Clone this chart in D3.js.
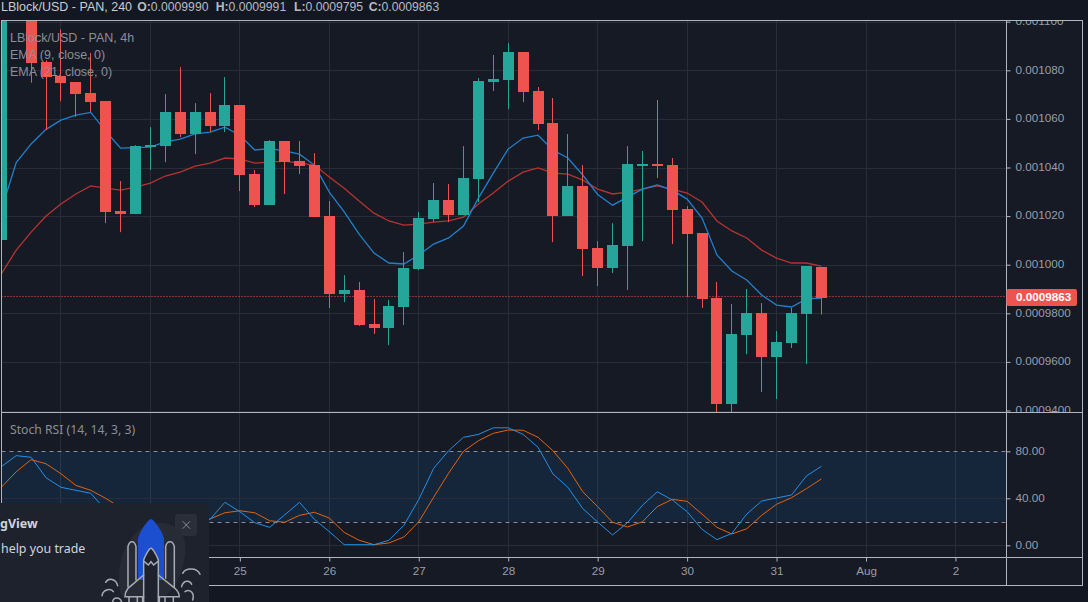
<!DOCTYPE html>
<html>
<head>
<meta charset="utf-8">
<script src="https://cdn.jsdelivr.net/npm/d3@7"></script>
<style>
  html, body { margin: 0; padding: 0; background: #131722; overflow: hidden; }
  svg { display: block; }
  text { font-family: "Liberation Sans", Arial, sans-serif; }
  .ui { font-family: "Noto Sans", sans-serif; }
</style>
</head>
<body>
<div id="chart"></div>
<script>
// prices are in units of 1e-7 (9863 = 0.0009863)
const opens = [10101,11600,11150,10834,10776,10752,10706,10673,10221,10208,10484,10488,10628,10538,10628,10570,10657,10373,10245,10509,10426,10410,10200,9879,9896,9756,9739,9826,9982,10188,10266,10204,10352,10752,10760,10875,10715,10583,10200,10324,10068,9986,10077,10410,10414,10410,10229,10130,9863,9427,9710,9801,9620,9678,9797,9990];
const highs = [11650,11650,11170,10841,10968,10752,10871,10673,10344,10492,10566,10702,10813,10665,10706,10772,10657,10390,10513,10509,10509,10459,10262,9957,9929,9859,9855,10052,10217,10336,10332,10488,10768,10863,10912,10875,10731,10686,10538,10410,10097,10171,10488,10468,10678,10439,10241,10130,9929,9838,9900,9842,9727,9822,9994,9991];
const lows = [10101,11200,10749,10554,10673,10609,10628,10171,10134,10208,10390,10422,10525,10455,10546,10546,10303,10237,10245,10291,10373,10196,9822,9846,9748,9715,9669,9752,9978,10175,10175,10204,10258,10715,10640,10669,10554,10093,10200,9953,9912,9966,9896,10097,10357,10085,9867,9822,9380,9380,9632,9476,9447,9657,9591,9795];
const closes = [11600,11250,10831,10772,10747,10702,10669,10217,10208,10488,10492,10628,10538,10628,10570,10657,10369,10245,10509,10422,10406,10196,9879,9896,9752,9739,9830,9986,10192,10266,10204,10357,10756,10764,10875,10710,10579,10200,10324,10064,9986,10081,10414,10414,10406,10225,10126,9859,9427,9715,9801,9620,9682,9801,9994,9863];

const ema9 = [10225,10420,10497,10557,10595,10616,10627,10550,10480,10482,10484,10505,10517,10538,10546,10566,10533,10472,10478,10468,10455,10410,10299,10217,10126,10048,10007,10003,10040,10085,10110,10159,10274,10377,10476,10521,10533,10472,10439,10369,10289,10245,10278,10311,10328,10307,10270,10192,10040,9974,9937,9875,9834,9826,9859,9863];
const ema21 = [9962,10060,10134,10200,10250,10291,10324,10315,10307,10319,10336,10365,10381,10406,10418,10439,10435,10418,10422,10426,10418,10410,10361,10315,10262,10212,10180,10163,10167,10175,10180,10196,10250,10295,10344,10381,10398,10377,10373,10348,10311,10291,10299,10311,10324,10311,10295,10258,10180,10139,10110,10060,10027,10007,10007,9994];

const stochK = [66.9,76.3,74.9,57.5,49.4,46.8,44.3,30,24,20,18,16,18,20,22.1,36.6,28.6,19.2,15.3,25.8,36.6,22.1,11.6,0.5,0.5,0.5,4.3,17,39,65.5,80.5,91.9,94.4,100,100,94.4,83.4,60.7,49.4,31.2,19.8,8.8,19.2,34,45.6,38.6,28.6,13.6,4.8,10.2,26.6,37.7,40.3,42.8,59,67.2];
const stochD = [49.4,62.6,72.9,69.4,60.9,51,46.8,40,32,26,22,20,19,20,22.4,27.7,29.4,27.7,20.9,19.6,25.5,28.1,23.2,11,4.3,0.5,2,7,20,40.9,61.3,80,89,95.3,98.1,97.9,91.9,80.5,65.5,45.6,32.9,19.6,15.6,20,32.9,39.1,37.4,26.6,15.3,9.6,14.1,25.5,34.9,40.5,48.2,56.4];

const priceTicks = [9400,9600,9800,10000,10200,10400,10600,10800,11000];
const stochTicks = [0,40,80];
const stochBand = [20,80];
const dayIndex = [4,10,16,22,28,34,40,46,52,58,64];
const dayNames = ['23','24','25','26','27','28','29','30','31','Aug','2'];
const lastPrice = 9863;
const ohlcLabels = ['O:','H:','L:','C:'];
const ohlcValues = ['0.0009990','0.0009991','0.0009795','0.0009863'];
const ohlcX = [137.3,215.7,294,368.7];

const W = 1088, H = 602;
const leftX = 1.5, axisX = 1006.5, rightX = 1082.5;
const topY = 20.5, sepY = 412.5, paneBottom = 557.5, bottomY = 585.5;

const bg = '#131722', paneBg = '#161a25', grid = '#2a2d38', frame = '#b2b5be';
const green = '#26a69a', red = '#ef5350', labelCol = '#9a9da6';

const svg = d3.select('#chart').append('svg').attr('width', W).attr('height', H);

const x = d3.scaleLinear().domain([0, 55]).range([1.3, 821.3]);
const y = d3.scaleLinear().domain([9400, 10800]).range([410.5, 70.3]);
const yS = d3.scaleLinear().domain([0, 80]).range([545.3, 451.3]);

svg.append('rect').attr('width', W).attr('height', H).attr('fill', bg);
svg.append('rect').attr('x', leftX).attr('y', topY).attr('width', rightX - leftX).attr('height', bottomY - topY).attr('fill', paneBg);

const defs = svg.append('defs');
defs.append('clipPath').attr('id', 'clipTop').append('rect').attr('x', leftX).attr('y', topY).attr('width', axisX - leftX).attr('height', sepY - topY);
defs.append('clipPath').attr('id', 'clipAxis').append('rect').attr('x', axisX).attr('y', topY).attr('width', rightX - axisX).attr('height', sepY - topY);

// vertical grid, both panes
svg.append('g').selectAll('line').data(dayIndex).enter().append('line')
  .attr('x1', d => Math.floor(x(d)) + 0.5).attr('x2', d => Math.floor(x(d)) + 0.5)
  .attr('y1', topY).attr('y2', paneBottom)
  .attr('stroke', grid);

// price pane
const pricePane = svg.append('g').attr('clip-path', 'url(#clipTop)');
pricePane.append('g').selectAll('line').data(priceTicks).enter().append('line')
  .attr('x1', leftX).attr('x2', axisX)
  .attr('y1', d => Math.round(y(d)) + 0.5).attr('y2', d => Math.round(y(d)) + 0.5)
  .attr('stroke', grid);

pricePane.append('line').attr('x1', leftX).attr('x2', axisX)
  .attr('y1', Math.floor(y(lastPrice)) - 0.5).attr('y2', Math.floor(y(lastPrice)) - 0.5)
  .attr('stroke', red).attr('stroke-dasharray', '1,2');

const line = d3.line().x((d, i) => x(i)).y(d => y(d));
pricePane.append('path').datum(ema21).attr('d', line).attr('fill', 'none').attr('stroke', '#b73330').attr('stroke-width', 1.3);
pricePane.append('path').datum(ema9).attr('d', line).attr('fill', 'none').attr('stroke', '#2180cc').attr('stroke-width', 1.3);

const candles = pricePane.append('g').selectAll('g').data(opens).enter().append('g')
  .attr('fill', (d, i) => closes[i] >= d ? green : red);
candles.append('rect')
  .attr('x', (d, i) => Math.floor(x(i)))
  .attr('width', 1)
  .attr('y', (d, i) => y(highs[i]))
  .attr('height', (d, i) => y(lows[i]) - y(highs[i]));
candles.append('rect')
  .attr('x', (d, i) => Math.floor(x(i)) - 5)
  .attr('width', 11)
  .attr('y', (d, i) => Math.round(y(Math.max(d, closes[i]))))
  .attr('height', (d, i) => Math.max(2, Math.round(y(Math.min(d, closes[i]))) - Math.round(y(Math.max(d, closes[i])))));

// legend
const legend = svg.append('g').attr('class', 'ui').attr('fill', '#8b8e97').attr('font-size', 12.5);
legend.append('text').attr('x', 10).attr('y', 42).attr('font-weight', 500).text('LBlock/USD - PAN, 4h');
legend.append('text').attr('x', 10).attr('y', 59).text('EMA (9, close, 0)');
legend.append('text').attr('x', 10).attr('y', 76).text('EMA (21, close, 0)');

// stoch pane
svg.append('rect').attr('x', leftX).attr('width', axisX - leftX)
  .attr('y', yS(stochBand[1])).attr('height', yS(stochBand[0]) - yS(stochBand[1]))
  .attr('fill', '#2196f3').attr('fill-opacity', 0.1);
svg.append('g').selectAll('line').data(stochTicks.filter(d => d !== 80)).enter().append('line')
  .attr('x1', leftX).attr('x2', axisX)
  .attr('y1', d => Math.round(yS(d)) + 0.5).attr('y2', d => Math.round(yS(d)) + 0.5)
  .attr('stroke', grid);
svg.append('g').selectAll('line').data(stochBand).enter().append('line')
  .attr('x1', leftX).attr('x2', axisX)
  .attr('y1', d => Math.round(yS(d)) + 0.5).attr('y2', d => Math.round(yS(d)) + 0.5)
  .attr('stroke', '#8a8d95').attr('stroke-dasharray', '4,4');

const lineS = d3.line().x((d, i) => x(i)).y(d => yS(d));
svg.append('path').datum(stochD).attr('d', lineS).attr('fill', 'none').attr('stroke', '#e0640f').attr('stroke-width', 1);
svg.append('path').datum(stochK).attr('d', lineS).attr('fill', 'none').attr('stroke', '#2290e6').attr('stroke-width', 1);

svg.append('text').attr('class', 'ui').attr('x', 10).attr('y', 434).attr('fill', '#8b8e97').attr('font-size', 12.2)
  .text('Stoch RSI (14, 14, 3, 3)');

// axes
function styleAxis(g) {
  g.select('.domain').remove();
  g.selectAll('.tick line').attr('stroke', frame);
  g.selectAll('.tick text').attr('fill', labelCol).style('font-family', '"Liberation Sans", Arial, sans-serif').style('font-size', '11.7px');
}
svg.append('g').attr('clip-path', 'url(#clipAxis)').append('g')
  .attr('transform', `translate(${axisX},0)`)
  .call(d3.axisRight(y).tickValues(priceTicks).tickSize(4).tickPadding(5)
    .tickFormat(d => (d * 1e-7).toFixed(d >= 10000 ? 6 : 7)))
  .call(styleAxis)
  .call(g => g.selectAll('.tick text').attr('y', -1));
svg.append('g')
  .attr('transform', `translate(${axisX},0)`)
  .call(d3.axisRight(yS).tickValues(stochTicks).tickSize(4).tickPadding(5)
    .tickFormat(d => d.toFixed(2)))
  .call(styleAxis)
  .call(g => g.selectAll('.tick text').attr('y', -0.6));
svg.append('g')
  .attr('transform', `translate(0,${paneBottom})`)
  .call(d3.axisBottom(x).tickValues(dayIndex).tickSize(4).tickPadding(5)
    .tickFormat((d, i) => dayNames[i]))
  .call(styleAxis);

// frame
const frameG = svg.append('g').attr('stroke', frame).attr('fill', 'none');
frameG.append('rect').attr('x', leftX).attr('y', topY).attr('width', rightX - leftX).attr('height', bottomY - topY);
frameG.append('line').attr('x1', axisX).attr('x2', axisX).attr('y1', topY).attr('y2', bottomY);
frameG.append('line').attr('x1', leftX).attr('x2', rightX).attr('y1', sepY).attr('y2', sepY);
frameG.append('line').attr('x1', leftX).attr('x2', rightX).attr('y1', paneBottom).attr('y2', paneBottom);

// last price tag
svg.append('rect').attr('x', axisX).attr('y', y(lastPrice) - 9).attr('width', 70.5).attr('height', 17).attr('rx', 2).attr('fill', red);
svg.append('text').attr('x', 1016).attr('y', y(lastPrice) + 3.5).attr('fill', '#fff').attr('font-size', 11.7).attr('font-weight', 700)
  .text((lastPrice * 1e-7).toFixed(7));

// header
const header = svg.append('g').attr('class', 'ui').attr('font-size', 12.2);
header.append('text').attr('x', 1).attr('y', 11).attr('fill', '#c9ccd3').attr('font-size', 12.5).attr('font-weight', 500)
  .text('LBlock/USD - PAN, 240');
ohlcLabels.forEach((label, i) => {
  const t = header.append('text').attr('x', ohlcX[i]).attr('y', 11).attr('fill', '#b8bbc3');
  t.append('tspan').attr('font-weight', 600).text(label);
  t.append('tspan').text(ohlcValues[i]);
});

// promo card over the lower left corner
const ad = svg.append('g');
ad.append('rect').attr('x', 0).attr('y', 503).attr('width', 209).attr('height', 99).attr('fill', '#1e222d');
ad.append('text').attr('class', 'ui').attr('x', 0).attr('y', 528).attr('fill', '#d1d4dc').attr('font-size', 12.5).attr('font-weight', 700).text('gView');
ad.append('text').attr('class', 'ui').attr('x', 1).attr('y', 553).attr('fill', '#d1d4dc').attr('font-size', 12.4).text('help you trade');
ad.append('rect').attr('x', 175).attr('y', 514).attr('width', 22).attr('height', 22).attr('rx', 3).attr('fill', '#2a2e39');
ad.append('path').attr('d', 'M182.7 521.3L190 528.7M190 521.3L182.7 528.7').attr('stroke', '#8a8d95').attr('fill', 'none');

// rocket, drawn in zoomed units
const rocket = ad.append('g').attr('transform', 'translate(0,495) scale(0.3333)');
rocket.append('path').attr('d', 'M440 90C385 120 345 190 360 290C370 321 420 330 470 321C540 290 570 170 550 125C530 85 480 75 440 90Z').attr('fill', '#272b36');
rocket.append('path').attr('d', 'M453 72C445 72 418 110 414 132L414 255L492 255L492 132C488 110 461 72 453 72Z').attr('fill', '#1c4fd0');
rocket.append('path').attr('d', 'M431 321L431 195C436 180 448 160 453 160C458 160 470 180 475 195L475 321L431 321Z').attr('fill', '#1e222d');
const outline = rocket.append('g').attr('fill', 'none').attr('stroke', '#a8abb3').attr('stroke-width', 4.5).attr('stroke-linecap', 'round');
[
  'M431 321L431 195C436 180 448 160 453 160C458 160 470 180 475 195L475 321',
  'M433 200L445 210L453 200L461 210L473 200',
  'M431 240L384 280C378 288 375 296 375 305L431 305',
  'M475 240L525 280C533 288 538 296 538 305L475 305',
  'M384 275L384 155C388 135 404 135 408 155L408 255',
  'M497 250L497 155C501 135 519 135 523 155L523 275',
  'M387 305L387 321M412 305L412 321M428 305L428 321M478 305L478 321M495 305L495 321M520 305L520 321',
  'M548 235C555 220 590 215 600 238',
  'M545 275C550 255 570 255 575 268',
  'M555 290C570 280 585 295 578 315',
  'M317 262C325 248 348 250 353 272',
  'M306 302C310 280 335 280 340 290',
  'M338 321C340 305 360 305 365 321'
].forEach(d => outline.append('path').attr('d', d));
</script>
</body>
</html>
